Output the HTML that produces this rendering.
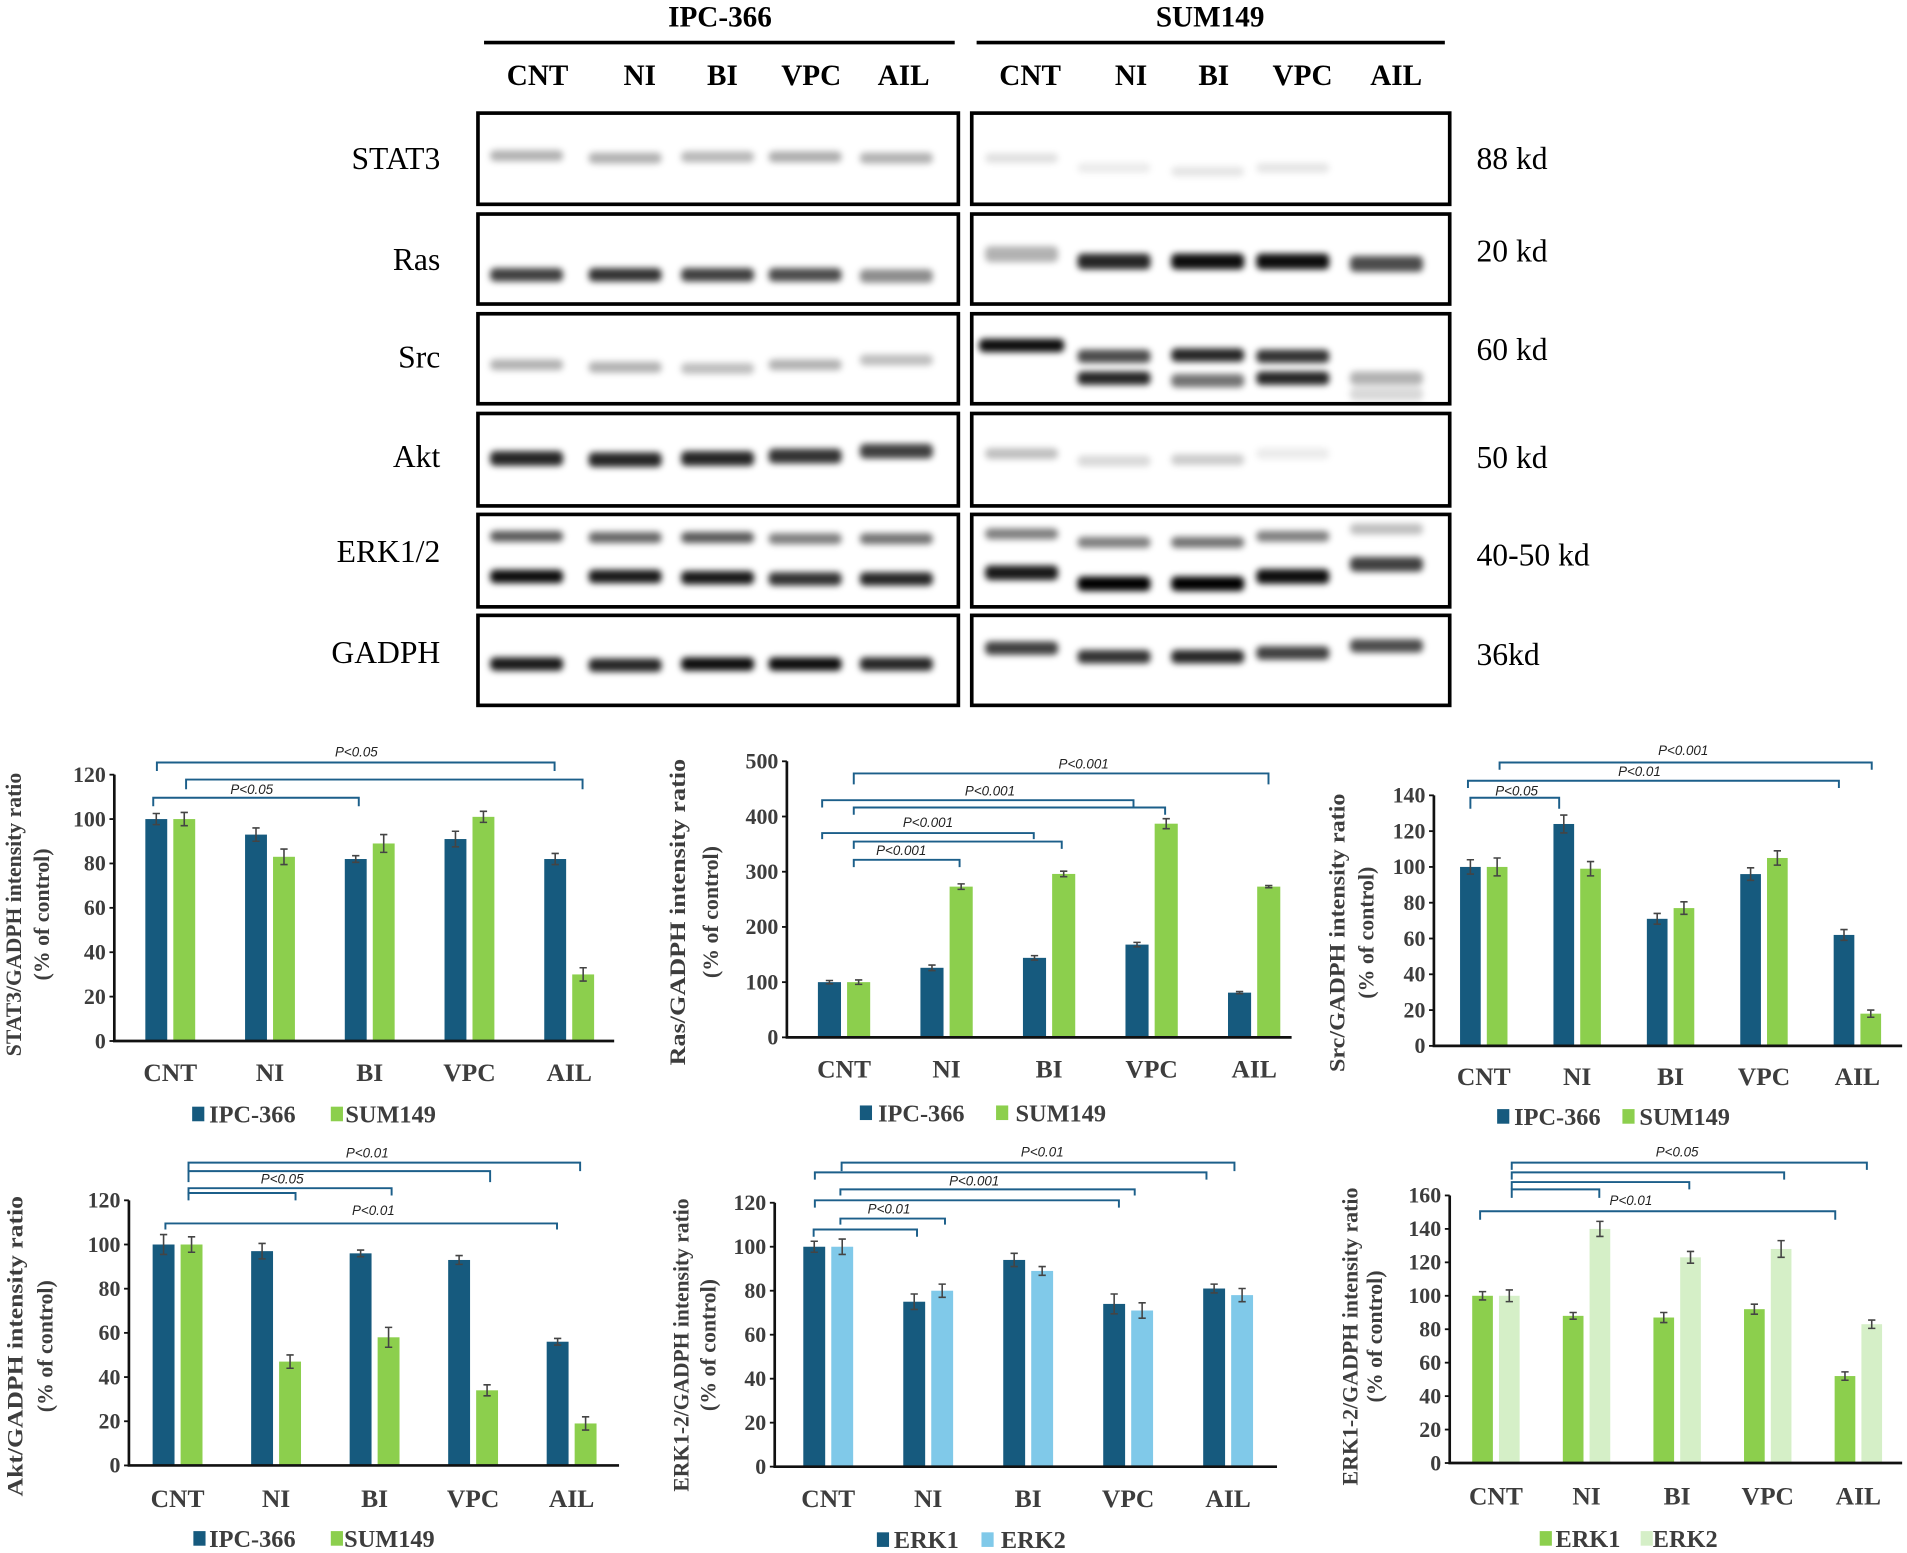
<!DOCTYPE html>
<html><head><meta charset="utf-8"><title>Western blot and quantification</title>
<style>
html,body{margin:0;padding:0;background:#fff;}
svg{display:block;}
.tick{font-family:"Liberation Serif",serif;font-weight:bold;font-size:18px;fill:#3d3d3d;}
.cat{font-family:"Liberation Serif",serif;font-weight:bold;font-size:21px;fill:#3d3d3d;}
.leg{font-family:"Liberation Serif",serif;font-weight:bold;font-size:20px;fill:#3d3d3d;}
.ylab{font-family:"Liberation Serif",serif;font-weight:bold;font-size:18px;fill:#3d3d3d;}
.pval{font-family:"Liberation Sans",sans-serif;font-style:italic;font-size:11px;fill:#222;}
.blt{font-family:"Liberation Serif",serif;font-weight:bold;font-size:24px;fill:#000;}
.row{font-family:"Liberation Serif",serif;font-size:26px;fill:#000;}
</style></head>
<body>
<svg id="fig" xmlns="http://www.w3.org/2000/svg" width="1907" height="1553" viewBox="0 0 1568 1277" preserveAspectRatio="none">
<defs><filter id="blur" x="-20%" y="-100%" width="140%" height="300%"><feGaussianBlur stdDeviation="2.6"/></filter></defs>
<g id="blot">
<text class="blt" x="592" y="22" text-anchor="middle">IPC-366</text>
<text class="blt" x="995" y="22" text-anchor="middle">SUM149</text>
<line x1="398" y1="35" x2="785" y2="35" stroke="#000" stroke-width="3"/>
<line x1="803" y1="35" x2="1188" y2="35" stroke="#000" stroke-width="3"/>
</g>
<g id="charts"></g>
</svg>
<script>
// ---------- data ----------
const categories = ['CNT','NI','BI','VPC','AIL'];
const stat3Ipc = [100,93,82,91,82];
const stat3IpcErr = [2.5,3,1.5,3.5,2.5];
const stat3Sum = [100,83,89,101,30];
const stat3SumErr = [3,3.5,4,2.5,3];
const rasIpc = [100,126,144,168,81];
const rasIpcErr = [3,5,4,4,2];
const rasSum = [100,273,296,387,273];
const rasSumErr = [4,5,5,9,2];
const srcIpc = [100,124,71,96,62];
const srcIpcErr = [4,5,3,3.5,3];
const srcSum = [100,99,77,105,18];
const srcSumErr = [5,4,3.5,4,2];
const aktIpc = [100,97,96,93,56];
const aktIpcErr = [4.5,3.5,1.5,2,1.5];
const aktSum = [100,47,58,34,19];
const aktSumErr = [3.5,3,4.5,2.5,3];
const erkIpc1 = [100,75,94,74,81];
const erkIpc1Err = [2.5,3.5,3,4.5,2];
const erkIpc2 = [100,80,89,71,78];
const erkIpc2Err = [3.5,3,2,3.5,3];
const erkSum1 = [100,88,87,92,52];
const erkSum1Err = [2.5,2,3,3,2.5];
const erkSum2 = [100,140,123,128,83];
const erkSum2Err = [3.5,4.5,3.5,5,2.5];
const ticks120 = [0,20,40,60,80,100,120];
const ticks500 = [0,100,200,300,400,500];
const ticks140 = [0,20,40,60,80,100,120,140];
const ticks160 = [0,20,40,60,80,100,120,140,160];
const laneLabels = ['CNT','NI','BI','VPC','AIL'];
const rowLabels = ['STAT3','Ras','Src','Akt','ERK1/2','GADPH'];
const kdLabels = ['88 kd','20 kd','60 kd','50 kd','40-50 kd','36kd'];

const NS='http://www.w3.org/2000/svg';
function mk(tag, attrs, parent){
  const e=document.createElementNS(NS,tag);
  for(const k in attrs) e.setAttribute(k,attrs[k]);
  parent.appendChild(e); return e;
}
const DARK='#165a7e', GREEN='#8ccf4d', LBLUE='#80c9e9', PALE='#d5efc7', BR='#1c5f8a', AX='#111';

// ---------- blot ----------
const blot=document.getElementById('blot');
const rowsY=[[93,168],[176,250],[258,332],[340,416],[423,499],[506,580]];
const rowTextY=[139,222,302,384,462,545];
const kdY=[139,215,296,385,465,547];
const leftLanes=[433,514,590,662,737], rightLanes=[840,916,993,1063,1140];
const laneTx=[[442,526,594,667,743],[847,930,998,1071,1148]];
laneTx.forEach((arr,p)=>arr.forEach((x,i)=>{
  const t=mk('text',{class:'blt',x:x,y:70,'text-anchor':'middle'},blot);
  
  
  t.textContent=laneLabels[i];
}));
const bands=[];
const addRow=(panel,row,ys,hs,ops)=>{for(let i=0;i<5;i++){ if(ops[i]>0) bands.push([panel,row,i,ys[i],hs,ops[i]]);}};
addRow(0,0,[128,130,129,129,130],9,[0.3,0.3,0.28,0.32,0.3]);
addRow(1,0,[130,138,141,138,0],8,[0.12,0.08,0.1,0.1,0]);
addRow(0,1,[226,226,226,226,227],11,[0.75,0.8,0.75,0.7,0.45]);
addRow(1,1,[209,215,215,215,217],13,[0.3,0.85,0.95,0.95,0.7]);
addRow(0,2,[300,302,303,300,296],9,[0.3,0.3,0.25,0.3,0.25]);
addRow(1,2,[284,293,292,293,311],11,[0.95,0.7,0.85,0.8,0.3]);
addRow(1,2,[0,311,313,311,324],11,[0,0.85,0.55,0.85,0.15]);
addRow(0,3,[377,378,377,375,371],12,[0.85,0.85,0.85,0.8,0.75]);
addRow(1,3,[373,379,378,373,0],9,[0.25,0.15,0.2,0.08,0]);
addRow(0,4,[441,442,442,443,443],9,[0.65,0.6,0.65,0.5,0.55]);
addRow(0,4,[474,474,475,476,476],11,[0.95,0.9,0.9,0.8,0.85]);
addRow(1,4,[439,446,446,441,435],9,[0.5,0.5,0.55,0.5,0.25]);
addRow(1,4,[471,480,480,474,464],12,[0.9,1,1,0.95,0.75]);
addRow(0,5,[546,547,546,546,546],11,[0.9,0.85,0.95,0.95,0.85]);
addRow(1,5,[533,540,540,537,531],11,[0.75,0.8,0.85,0.75,0.7]);
[[393,788],[799,1192]].forEach((px,p)=>{
  rowsY.forEach((ry,r)=>{
    const g=mk('g',{},blot);
    
    
    const bg=mk('g',{filter:'url(#blur)'},g);
    bands.filter(b=>b[0]===p&&b[1]===r).forEach(b=>{
      const cx=(p?rightLanes:leftLanes)[b[2]];
      const w=(p===1&&r===2&&b[2]===0)?70:60;
      const rc=mk('rect',{x:cx-w/2,y:b[3]-b[4]/2,width:w,height:b[4],rx:4,fill:'#000',opacity:b[5]},bg);
      
      
    });
    mk('rect',{x:px[0],y:ry[0],width:px[1]-px[0],height:ry[1]-ry[0],fill:'none',stroke:'#000','stroke-width':3},g);
  });
});
rowLabels.forEach((l,r)=>{
  const t=mk('text',{class:'row',x:362,y:rowTextY[r],'text-anchor':'end'},blot);
  
  
  t.textContent=l;
  const k=mk('text',{class:'row',x:1214,y:kdY[r]},blot);
  
  
  k.textContent=kdLabels[r];
});

// ---------- charts ----------
const chartsG=document.getElementById('charts');
function drawChart(cfg){
  const g=mk('g',{},chartsG);
  
  
  const yMax=cfg.ticks[cfg.ticks.length-1];
  const y=v=>cfg.y0-v/yMax*(cfg.y0-cfg.yTop);
  const cx=i=>cfg.c0+i*cfg.step;
  cfg.ticks.forEach(t=>{
    const tl=mk('text',{class:'tick',x:cfg.ax-7,y:y(t)+6,'text-anchor':'end'},g);
    
    
    tl.textContent=t;
    mk('line',{x1:cfg.ax-4,y1:y(t),x2:cfg.ax,y2:y(t),stroke:AX,'stroke-width':1.5},g);
  });
  cfg.series.forEach((s,si)=>{
    s.vals.forEach((v,i)=>{
      const bx=si===0?cx(i)-cfg.gap-cfg.bw:cx(i)+cfg.gap;
      const r=mk('rect',{x:bx,y:y(v),width:cfg.bw,height:cfg.y0-y(v),fill:s.color},g);
      
      
      const ex=bx+cfg.bw/2, e=s.err[i];
      const eb=mk('path',{d:`M${ex-3},${y(v+e)}H${ex+3}M${ex},${y(v+e)}V${y(v-e)}M${ex-3},${y(v-e)}H${ex+3}`,stroke:'#444','stroke-width':1.3,fill:'none'},g);
      
      
    });
  });
  const axl=mk('path',{d:`M${cfg.ax},${cfg.yTop}V${cfg.y0}H${cfg.xEnd}`,stroke:AX,'stroke-width':2.2,fill:'none'},g);
  
  
  categories.forEach((c,i)=>{
    const t=mk('text',{class:'cat',x:cx(i),y:cfg.catBase,'text-anchor':'middle'},g);
    
    
    t.textContent=c;
  });
  cfg.ylab.forEach((txt,k)=>{
    const lx=cfg.ylx[k];
    const t=mk('text',{class:'ylab',x:lx,y:cfg.ylcy,'text-anchor':'middle',transform:`rotate(-90 ${lx} ${cfg.ylcy})`,dy:'0.35em'},g);
    if(k===0){t.setAttribute('textLength',cfg.yllen);t.setAttribute('lengthAdjust','spacingAndGlyphs');}
    
    
    t.textContent=txt;
  });
  cfg.series.forEach((s,si)=>{
    const L=cfg.legend[si];
    const lg=mk('g',{},g);
    
    
    mk('rect',{x:L[0],y:cfg.legBase-13,width:10,height:12,fill:s.color},lg);
    const t=mk('text',{class:'leg',x:L[1],y:cfg.legBase},lg);
    t.textContent=s.label;
  });
  cfg.brackets.forEach(b=>{
    const p=mk('path',{d:`M${b[0]},${b[2]+b[3]}V${b[2]}H${b[1]}V${b[2]+b[3]}`,stroke:BR,'stroke-width':1.6,fill:'none'},g);
    
    
  });
  cfg.plabels.forEach(pl=>{
    const t=mk('text',{class:'pval',x:pl[0],y:pl[1],'text-anchor':'middle'},g);
    
    
    t.textContent=pl[2];
  });
}

drawChart({name:'stat3-chart',ticks:ticks120,ax:94,xEnd:505,y0:856,yTop:637,c0:140,step:82,bw:18,gap:2.5,catBase:889,
  ylab:['STAT3/GADPH intensity ratio','(% of control)'],ylx:[11,34],ylcy:752,yllen:233,legBase:923,legend:[[158,172],[272,284]],
  series:[{key:'ipc366',label:'IPC-366',color:DARK,vals:stat3Ipc,err:stat3IpcErr},{key:'sum149',label:'SUM149',color:GREEN,vals:stat3Sum,err:stat3SumErr}],
  brackets:[[129,456,627,7],[153,479,641,8],[126,295,656,7]],plabels:[[293,622,'P<0.05'],[207,653,'P<0.05']]});

drawChart({name:'ras-chart',ticks:ticks500,ax:647,xEnd:1062,y0:853,yTop:626,c0:694,step:84.3,bw:19,gap:2.5,catBase:886,
  ylab:['Ras/GADPH intensity ratio','(% of control)'],ylx:[557,584],ylcy:750,yllen:252,legBase:922,legend:[[707,722],[819,835]],
  series:[{key:'ipc366',label:'IPC-366',color:DARK,vals:rasIpc,err:rasIpcErr},{key:'sum149',label:'SUM149',color:GREEN,vals:rasSum,err:rasSumErr}],
  brackets:[[702,1043,636,9],[676,932,658,6],[702,958,664,6],[676,850,685,5],[702,873,692,6],[702,789,707,6]],
  plabels:[[891,632,'P<0.001'],[814,654,'P<0.001'],[763,680,'P<0.001'],[741,703,'P<0.001']]});

drawChart({name:'src-chart',ticks:ticks140,ax:1179,xEnd:1564,y0:860,yTop:654,c0:1220,step:76.8,bw:17,gap:2.5,catBase:892,
  ylab:['Src/GADPH intensity ratio','(% of control)'],ylx:[1099,1123],ylcy:767,yllen:229,legBase:925,legend:[[1231,1245],[1334,1348]],
  series:[{key:'ipc366',label:'IPC-366',color:DARK,vals:srcIpc,err:srcIpcErr},{key:'sum149',label:'SUM149',color:GREEN,vals:srcSum,err:srcSumErr}],
  brackets:[[1233,1539,627,6],[1207,1512,642,6],[1209,1282,656,9]],
  plabels:[[1384,621,'P<0.001'],[1348,638,'P<0.01'],[1247,654,'P<0.05']]});

drawChart({name:'akt-chart',ticks:ticks120,ax:106,xEnd:509,y0:1205,yTop:987,c0:146,step:81,bw:18,gap:2.5,catBase:1239,
  ylab:['Akt/GADPH intensity ratio','(% of control)'],ylx:[12,37],ylcy:1107,yllen:247,legBase:1272,legend:[[159,172],[272,283]],
  series:[{key:'ipc366',label:'IPC-366',color:DARK,vals:aktIpc,err:aktIpcErr},{key:'sum149',label:'SUM149',color:GREEN,vals:aktSum,err:aktSumErr}],
  brackets:[[155,477,956,7],[155,403,963,9],[155,322,977,6],[155,243,981,6],[136,458,1006,5]],
  plabels:[[302,952,'P<0.01'],[232,973,'P<0.05'],[307,999,'P<0.01']]});

drawChart({name:'erk-ipc366-chart',ticks:ticks120,ax:637,xEnd:1050,y0:1206,yTop:989,c0:681,step:82.2,bw:18,gap:2.5,catBase:1239,
  ylab:['ERK1-2/GADPH intensity ratio','(% of control)'],ylx:[560,582],ylcy:1106,yllen:241,legBase:1273,legend:[[721,735],[807,823]],
  series:[{key:'erk1',label:'ERK1',color:DARK,vals:erkIpc1,err:erkIpc1Err},{key:'erk2',label:'ERK2',color:LBLUE,vals:erkIpc2,err:erkIpc2Err}],
  brackets:[[692,1015,956,7],[670,992,964,6],[691,933,978,5],[670,920,987,6],[691,777,1002,5],[669,754,1011,6]],
  plabels:[[857,951,'P<0.01'],[801,975,'P<0.001'],[731,998,'P<0.01']]});

drawChart({name:'erk-sum149-chart',ticks:ticks160,ax:1192,xEnd:1564,y0:1203,yTop:983,c0:1230,step:74.5,bw:17,gap:2.5,catBase:1237,
  ylab:['ERK1-2/GADPH intensity ratio','(% of control)'],ylx:[1110,1130],ylcy:1099,yllen:245,legBase:1272,legend:[[1266,1279],[1349,1359]],
  series:[{key:'erk1',label:'ERK1',color:GREEN,vals:erkSum1,err:erkSum1Err},{key:'erk2',label:'ERK2',color:PALE,vals:erkSum2,err:erkSum2Err}],
  brackets:[[1243,1535,956,6],[1243,1467,964,6],[1243,1389,972,6],[1243,1315,978,7],[1217,1509,996,7]],
  plabels:[[1379,951,'P<0.05'],[1341,991,'P<0.01']]});
</script>
</body></html>
